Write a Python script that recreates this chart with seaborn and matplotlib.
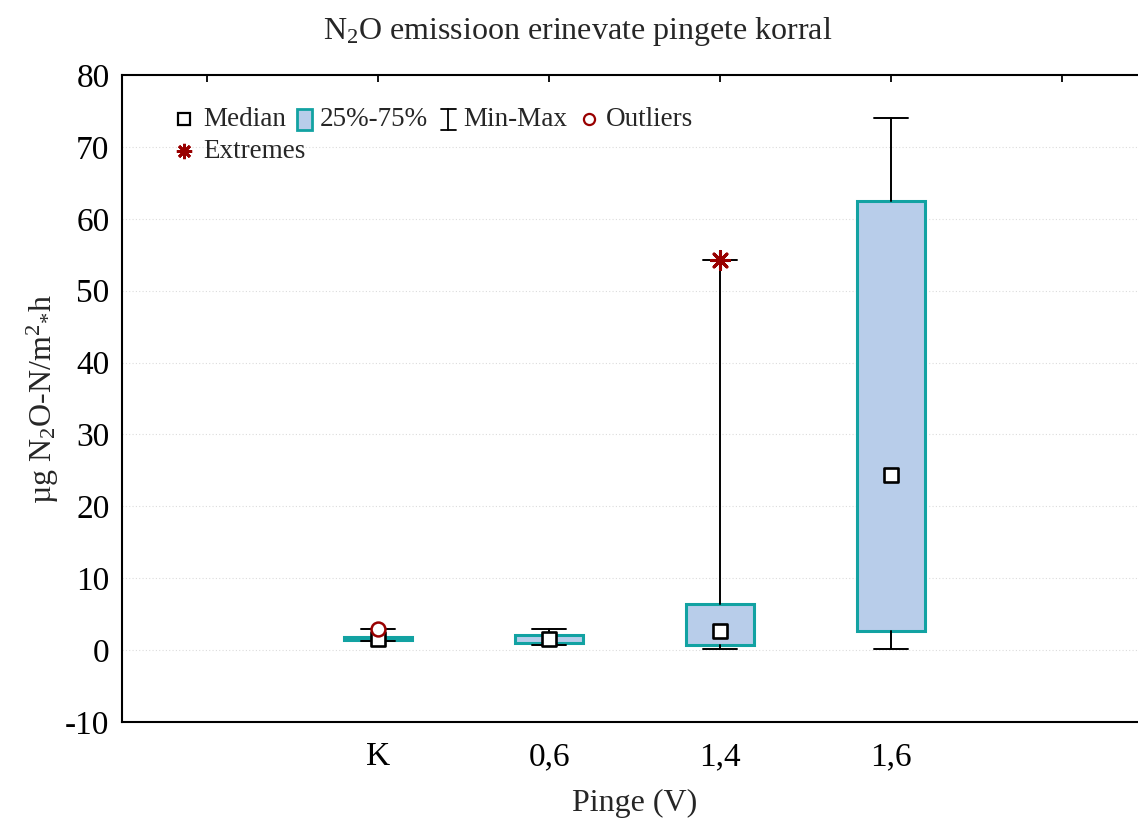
import matplotlib
matplotlib.use("Agg")
import matplotlib.pyplot as plt
from matplotlib.lines import Line2D
from matplotlib.patches import Rectangle
import seaborn as sns
import numpy as np

# ---- data ----
categories = ["K", "0,6", "1,4", "1,6"]
medians = [1.5, 1.5, 2.65, 24.4]
q1 = [1.45, 1.05, 0.75, 2.6]
q3 = [1.8, 2.05, 6.45, 62.5]
mins = [1.2, 0.7, 0.15, 0.2]
maxs = [2.9, 2.9, 54.3, 74.0]
outlier_cat = ["K"]
outlier_val = [3.0]
extreme_cat = ["1,4"]
extreme_val = [54.3]
y_ticks = [-10, 0, 10, 20, 30, 40, 50, 60, 70, 80]

sns.set_style("white")
plt.rcParams["font.family"] = ["Liberation Serif", "DejaVu Serif"]
plt.rcParams["mathtext.fontset"] = "custom"
plt.rcParams["mathtext.rm"] = "Liberation Serif"
plt.rcParams["mathtext.it"] = "Liberation Serif:italic"
plt.rcParams["mathtext.bf"] = "Liberation Serif:bold"

W, H = 1138, 818
fig = plt.figure(figsize=(W / 100, H / 100), dpi=100)
ax = fig.add_axes([122 / W, 1 - 722 / H, (1147 - 122) / W, (722 - 75) / H])

positions = [categories.index(c) + 1 for c in categories]
box_face = "#b8cdea"
box_edge = "#12a2a2"
dark_red = "#990000"

stats = []
for c, m, a, b, lo, hi in zip(categories, medians, q1, q3, mins, maxs):
    stats.append(dict(med=m, q1=a, q3=b, whislo=lo, whishi=hi, fliers=[], label=c))

ax.bxp(stats, positions=positions, widths=0.4, capwidths=0.2, patch_artist=True,
       showfliers=False,
       boxprops=dict(facecolor=box_face, edgecolor=box_edge, linewidth=2.2),
       whiskerprops=dict(color="black", linewidth=1.4),
       capprops=dict(color="black", linewidth=1.4),
       medianprops=dict(linewidth=0))

# medians
sns.scatterplot(x=positions, y=medians, marker="s", s=95, color="white",
                edgecolor="black", linewidth=1.9, zorder=5, ax=ax)
# outliers
sns.scatterplot(x=[categories.index(c) + 1 for c in outlier_cat], y=outlier_val,
                marker="o", s=100, color="white", edgecolor=dark_red,
                linewidth=1.8, zorder=6, ax=ax)
# extremes
sns.scatterplot(x=[categories.index(c) + 1 for c in extreme_cat], y=extreme_val,
                marker=(8, 2, 0), s=170, color=dark_red, edgecolor=dark_red,
                linewidth=2.2, zorder=6, ax=ax)

ax.set_xlim(-0.5, 5.5)
ax.set_ylim(-10, 80)
ax.set_xticks(range(0, 6))
ax.set_xticklabels([""] + categories + [""])
ax.set_yticks(y_ticks)
ax.set_yticklabels([str(t) for t in y_ticks])
ax.tick_params(axis="both", direction="in", length=5, width=1.3,
               top=True, right=True, labelsize=24, colors="black")
ax.tick_params(axis="x", pad=14)
ax.tick_params(axis="y", pad=9)
for s in ax.spines.values():
    s.set_linewidth(1.5)
    s.set_color("black")
ax.yaxis.grid(True, linestyle=(0, (1, 2)), color="#dcdcdc", linewidth=0.8)
ax.set_axisbelow(True)

ax.set_xlabel("Pinge (V)", fontsize=23, labelpad=12)
ax.set_ylabel("µg N$_2$O-N/m$^{2}{}_{*}$h", fontsize=23, labelpad=3)
fig.suptitle("N$_2$O emissioon erinevate pingete korral", fontsize=23,
             x=578 / W, y=1 - 31 / H, va="center")

# ---- manual legend (figure pixel coords) ----
def P(x, y):
    return x / W, 1 - y / H

tf = fig.transFigure
fs_leg = 19.5
def mark(x, y, **kw):
    fig.add_artist(Line2D([P(x, y)[0]], [P(x, y)[1]], transform=tf, linestyle="none", **kw))

mark(184, 119, marker="s", markersize=9, markerfacecolor="white",
     markeredgecolor="black", markeredgewidth=1.6)
fig.text(*P(203, 120), "Median", fontsize=fs_leg, va="center", ha="left")
fig.add_artist(Rectangle(P(297, 130), 15 / W, 21 / H, transform=tf,
                         facecolor=box_face, edgecolor=box_edge, linewidth=2))
fig.text(*P(320, 120), "25%-75%", fontsize=fs_leg, va="center", ha="left")
fig.add_artist(Line2D([P(448, 0)[0]] * 2, [P(0, 109)[1], P(0, 130)[1]],
                      transform=tf, color="black", linewidth=1.3))
for yy in (109, 130):
    fig.add_artist(Line2D([P(441, 0)[0], P(456, 0)[0]], [P(0, yy)[1]] * 2,
                          transform=tf, color="black", linewidth=1.3))
fig.text(*P(463, 120), "Min-Max", fontsize=fs_leg, va="center", ha="left")
mark(589, 119, marker="o", markersize=8, markerfacecolor="white",
     markeredgecolor=dark_red, markeredgewidth=1.6)
fig.text(*P(606, 120), "Outliers", fontsize=fs_leg, va="center", ha="left")
mark(184, 151, marker=(8, 2, 0), markersize=11, markerfacecolor=dark_red,
     markeredgecolor=dark_red, markeredgewidth=2)
fig.text(*P(203, 152), "Extremes", fontsize=fs_leg, va="center", ha="left")

fig.savefig("out.png", dpi=100)
